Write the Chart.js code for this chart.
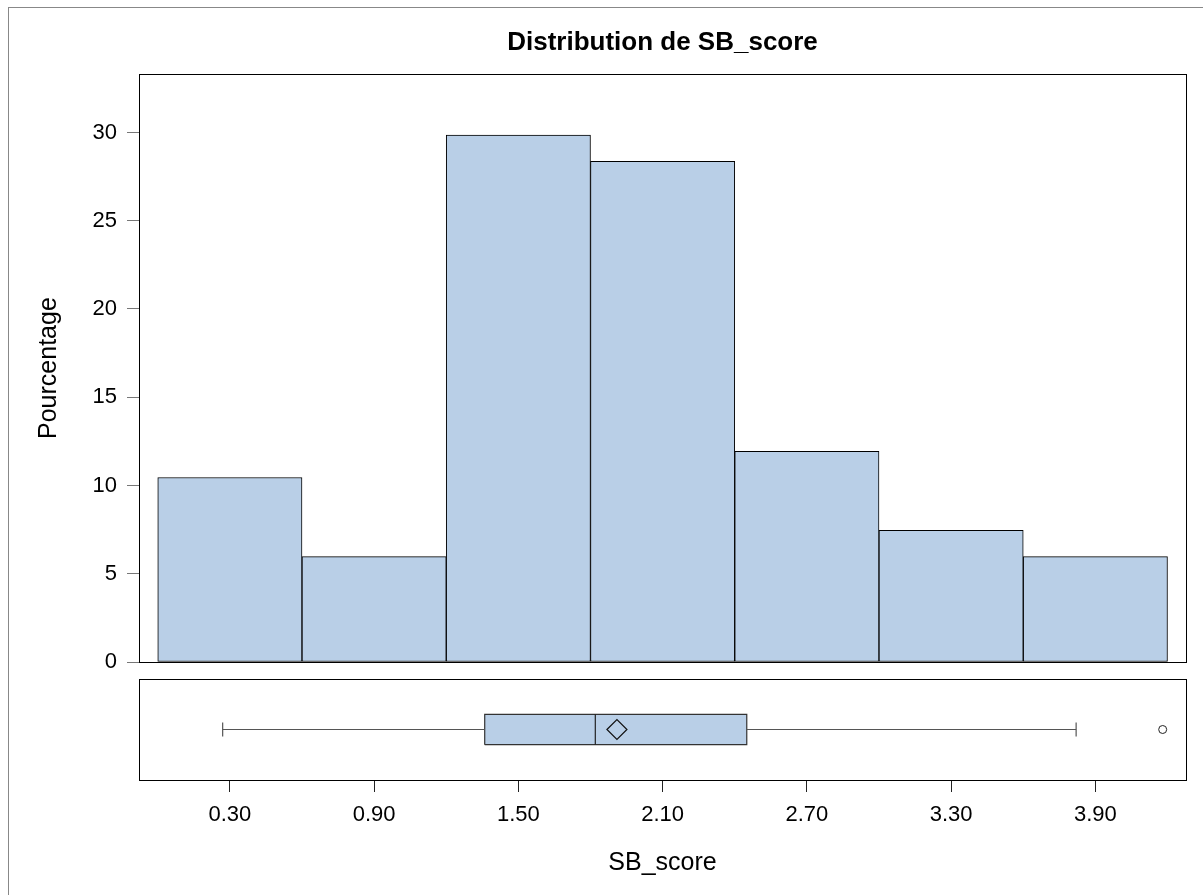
<!DOCTYPE html>
<html>
<head>
<meta charset="utf-8">
<script src="https://cdn.jsdelivr.net/npm/chart.js@4.4.1/dist/chart.umd.min.js"></script>
<style>
  html, body { margin: 0; padding: 0; background: #fff; }
  #page { position: relative; width: 1203px; height: 895px; overflow: hidden; }
  #frame { position: absolute; left: 8px; top: 7px; width: 1300px; height: 1000px;
           border-top: 1px solid #888; border-left: 1px solid #888; }
  canvas { position: absolute; left: 0; }
  #histChart { top: 0; }
  #boxChart { top: 660px; }
</style>
</head>
<body>
<div id="page">
  <div id="frame"></div>
  <canvas id="histChart" width="1203" height="700"></canvas>
  <canvas id="boxChart" width="1203" height="235"></canvas>
</div>
<script>
// histogram bins (midpoints) and percentages
const binMids = [0.30, 0.90, 1.50, 2.10, 2.70, 3.30, 3.90];
const percents = [10.45, 5.97, 29.85, 28.36, 11.94, 7.46, 5.97];
const yTicks = [0, 5, 10, 15, 20, 25, 30];
const xTicks = [0.30, 0.90, 1.50, 2.10, 2.70, 3.30, 3.90];

// box plot summary
const whiskerLow = 0.27;
const q1 = 1.36;
const median = 1.82;
const mean = 1.91;
const q3 = 2.45;
const whiskerHigh = 3.82;
const outliers = [4.18];

const xMin = -0.078, xMax = 4.277;
const fill = '#b9cfe7';
const family = '"Liberation Sans", Arial, sans-serif';
const tickFont = { family, size: 22 };
const titleFont = { family, size: 25 };
Chart.defaults.font.family = family;
Chart.defaults.color = '#000';

const frame = {
    id: 'frame',
    afterDatasetsDraw(chart) {
        const a = chart.chartArea, ctx = chart.ctx;
        ctx.save();
        ctx.strokeStyle = '#000';
        ctx.lineWidth = 1;
        ctx.strokeRect(Math.round(a.left) + 0.5, Math.round(a.top) + 0.5,
            Math.round(a.right - a.left), Math.round(a.bottom - a.top));
        ctx.restore();
    }
};

new Chart(document.getElementById('histChart'), {
    type: 'bar',
    data: {
        datasets: [{
            data: binMids.map((x, i) => ({ x, y: percents[i] })),
            backgroundColor: fill,
            borderColor: '#000',
            borderWidth: 1,
            borderSkipped: false,
            barPercentage: 1,
            categoryPercentage: 1
        }]
    },
    options: {
        responsive: false,
        animation: false,
        layout: { padding: { left: 0, right: 17, top: 0, bottom: 38 } },
        plugins: {
            legend: { display: false },
            tooltip: { enabled: false },
            title: {
                display: true,
                text: 'Distribution de SB_score',
                fullSize: false,
                color: '#000',
                font: { family, size: 26, weight: 'bold' },
                padding: { top: 27, bottom: 16 }
            }
        },
        scales: {
            x: {
                type: 'linear', min: xMin, max: xMax, offset: false, display: false,
                afterBuildTicks: s => { s.ticks = xTicks.map(v => ({ value: v })); }
            },
            y: {
                min: 0, max: 33.3,
                afterFit: s => { s.width = 139; },
                afterBuildTicks: s => { s.ticks = yTicks.map(v => ({ value: v })); },
                border: { display: true, color: '#000' },
                grid: { drawOnChartArea: false, drawTicks: true, tickLength: 12, color: '#777' },
                ticks: { font: tickFont, padding: 10, color: '#000' },
                title: { display: true, text: 'Pourcentage', font: titleFont, color: '#000', padding: { top: 34 } }
            }
        }
    },
    plugins: [frame]
});

const boxLo = 0.35, boxHi = 0.65, mid = 0.5, cap = 0.07;
const line = (pts, color) => ({
    type: 'scatter', data: pts, showLine: true, borderColor: color, borderWidth: 1.2,
    pointRadius: 0, fill: false
});

// dataset 0 is drawn on top, so the box goes last
new Chart(document.getElementById('boxChart'), {
    type: 'scatter',
    data: {
        datasets: [
            {
                type: 'scatter', data: [{ x: mean, y: mid }], pointStyle: 'rectRot',
                pointRadius: 10, borderColor: '#111', borderWidth: 1.2, backgroundColor: 'rgba(0,0,0,0)'
            },
            {
                type: 'scatter', data: outliers.map(x => ({ x, y: mid })), pointStyle: 'circle',
                pointRadius: 4, borderColor: '#222', borderWidth: 1, backgroundColor: '#fff'
            },
            line([{ x: median, y: boxLo }, { x: median, y: boxHi }], '#222'),
            line([{ x: whiskerLow, y: mid }, { x: q1, y: mid }], '#555'),
            line([{ x: q3, y: mid }, { x: whiskerHigh, y: mid }], '#555'),
            line([{ x: whiskerLow, y: mid - cap }, { x: whiskerLow, y: mid + cap }], '#555'),
            line([{ x: whiskerHigh, y: mid - cap }, { x: whiskerHigh, y: mid + cap }], '#555'),
            {
                type: 'scatter',
                data: [{ x: q1, y: boxLo }, { x: q3, y: boxLo }, { x: q3, y: boxHi }, { x: q1, y: boxHi }, { x: q1, y: boxLo }],
                showLine: true, borderColor: '#333', borderWidth: 1.2, backgroundColor: fill,
                fill: 'shape', pointRadius: 0
            }
        ]
    },
    options: {
        responsive: false,
        animation: false,
        layout: { padding: { left: 139, right: 17, top: 19, bottom: 15 } },
        plugins: { legend: { display: false }, tooltip: { enabled: false } },
        scales: {
            x: {
                type: 'linear', min: xMin, max: xMax,
                afterFit: s => { s.height = 100; },
                afterBuildTicks: s => { s.ticks = xTicks.map(v => ({ value: v })); },
                border: { display: true, color: '#000' },
                grid: { drawOnChartArea: false, drawTicks: true, tickLength: 12, color: '#222' },
                ticks: { font: tickFont, padding: 10, color: '#000', callback: v => v.toFixed(2) },
                title: { display: true, text: 'SB_score', font: titleFont, color: '#000', padding: { bottom: 2 } }
            },
            y: { min: 0, max: 1, display: false }
        }
    },
    plugins: [frame]
});
</script>
</body>
</html>
